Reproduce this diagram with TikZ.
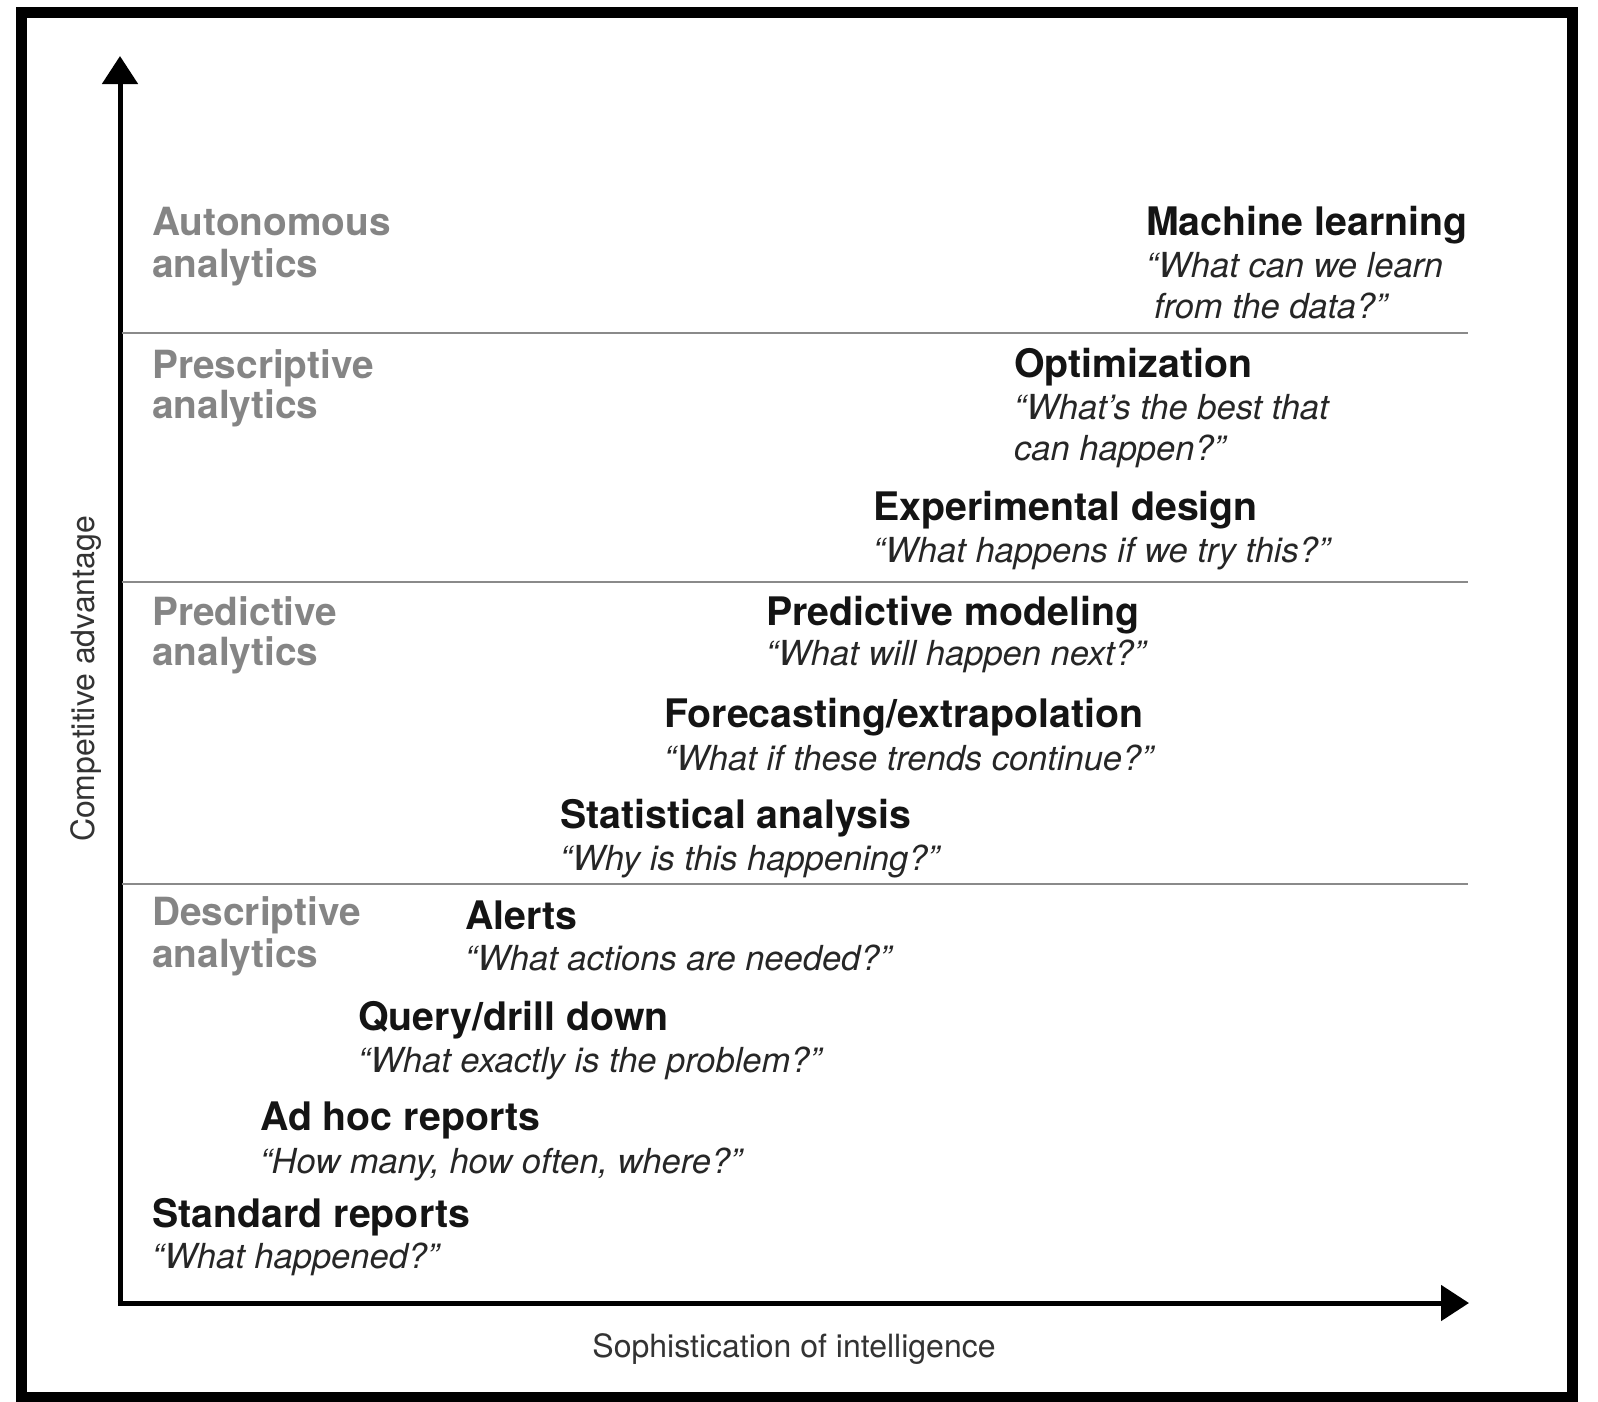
\documentclass[tikz,border=0pt]{standalone}
\usepackage{fontspec}
\setmainfont{TeX Gyre Heros}
\usetikzlibrary{arrows.meta}
\definecolor{catgray}{HTML}{858585}
\definecolor{titleblack}{HTML}{141414}
\definecolor{quotegray}{HTML}{262626}
\definecolor{axisgray}{HTML}{333333}
\definecolor{sepgray}{HTML}{8A8A8A}
\begin{document}
\begin{tikzpicture}[x=1pt,y=-1pt,
  cat/.style={anchor=base west, inner sep=0pt, text=catgray, font=\fontsize{38.8}{42}\selectfont\bfseries},
  ttl/.style={anchor=base west, inner sep=0pt, text=titleblack, font=\fontsize{39.3}{42}\selectfont\bfseries},
  qt/.style={anchor=base west, inner sep=0pt, text=quotegray, font=\fontsize{34.5}{40}\selectfont\itshape},
  axlab/.style={anchor=base, inner sep=0pt, text=axisgray, font=\fontsize{32}{36}\selectfont},
  sepline/.style={draw=sepgray, line width=2.5pt},
  axisline/.style={line width=5pt, -{Triangle[length=28pt,width=35pt]}}]

\useasboundingbox (0,0) rectangle (1598,1401);
\fill[white] (0,0) rectangle (1598,1401);
\draw[line width=11pt] (21.5,12.5) rectangle (1572.5,1397);

% axes
\coordinate (O) at (120,1303);
\coordinate (ytip) at (120,56);
\coordinate (xtip) at (1469,1303);
\draw[axisline] (O) -- (ytip);
\draw[axisline] ([xshift=-2.5pt]O) -- (xtip);

% separators
\coordinate (s1l) at (122,333); \coordinate (s1r) at (1468,333);
\coordinate (s2l) at (122,582); \coordinate (s2r) at (1468,582);
\coordinate (s3l) at (122,884); \coordinate (s3r) at (1468,884);
\draw[sepline] (s1l) -- (s1r);
\draw[sepline] (s2l) -- (s2r);
\draw[sepline] (s3l) -- (s3r);

% axis labels
\node[axlab, rotate=90, anchor=base] (ylab) at (94,679) {Competitive advantage};
\node[axlab] (xlab) at (794,1357) {Sophistication of intelligence};

% categories
\node[cat] (auto1) at (152,235) {Autonomous};
\node[cat] (auto2) at (152,277) {analytics};
\node[cat] (pres1) at (152,378) {Prescriptive};
\node[cat] (pres2) at (152,418) {analytics};
\node[cat] (pred1) at (152,625) {Predictive};
\node[cat] (pred2) at (152,665) {analytics};
\node[cat] (desc1) at (152,925) {Descriptive};
\node[cat] (desc2) at (152,967) {analytics};

% items
\node[ttl] (ml) at (1146,235) {Machine learning};
\node[qt] (mlq1) at (1146,277) {“What can we learn};
\node[qt] (mlq2) at (1154,318) {from the data?”};

\node[ttl] (opt) at (1014,377) {Optimization};
\node[qt] (optq1) at (1014,419) {“What’s the best that};
\node[qt] (optq2) at (1014,460) {can happen?”};

\node[ttl] (exp) at (873,520) {Experimental design};
\node[qt] (expq) at (873,562) {“What happens if we try this?”};

\node[ttl] (pm) at (766,625) {Predictive modeling};
\node[qt] (pmq) at (766,665) {“What will happen next?”};

\node[ttl] (fc) at (664,727) {Forecasting/extrapolation};
\node[qt] (fcq) at (664,770) {“What if these trends continue?”};

\node[ttl] (sa) at (560,828) {Statistical analysis};
\node[qt] (saq) at (560,870) {“Why is this happening?”};

\node[ttl] (al) at (465,929) {Alerts};
\node[qt] (alq) at (465,970) {“What actions are needed?”};

\node[ttl] (qd) at (358,1030) {Query/drill down};
\node[qt] (qdq) at (358,1072) {“What exactly is the problem?”};

\node[ttl] (ah) at (260,1130) {Ad hoc reports};
\node[qt] (ahq) at (260,1173) {“How many, how often, where?”};

\node[ttl] (sr) at (152,1227) {Standard reports};
\node[qt] (srq) at (152,1268) {“What happened?”};
\end{tikzpicture}
\end{document}
